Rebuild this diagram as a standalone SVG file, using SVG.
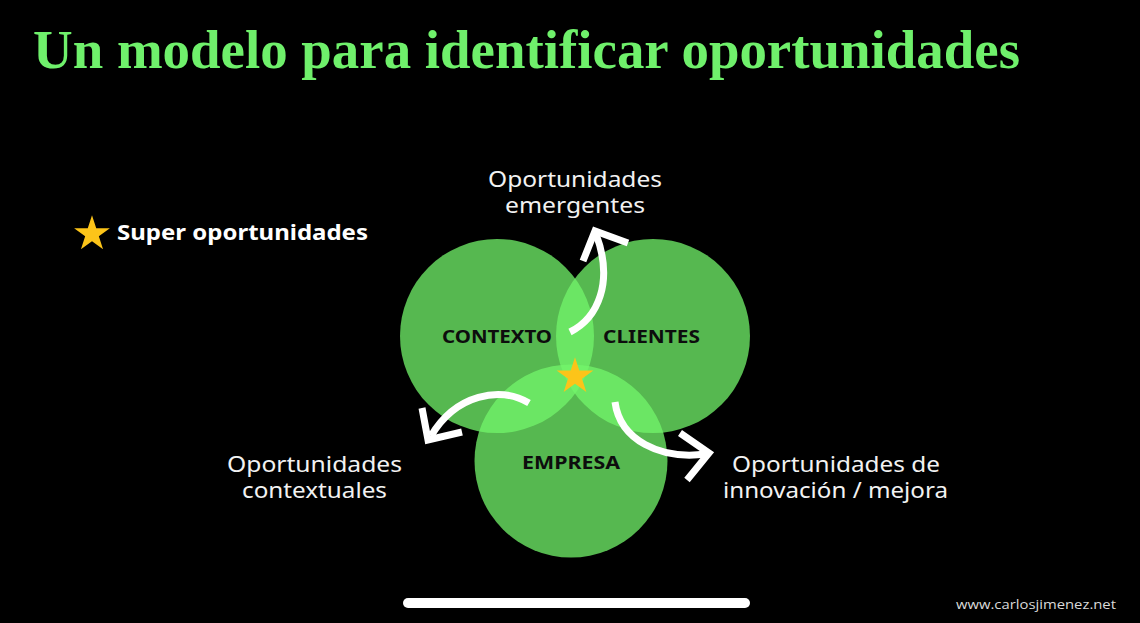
<svg xmlns="http://www.w3.org/2000/svg" width="1140" height="623" viewBox="0 0 1140 623">
  <defs>
    <style>
      .title { font-family: "Liberation Serif", "Times New Roman", serif; font-weight: bold; font-size: 55px; fill: #6ff06b; }
      .lbl { font-family: "Noto Sans", "Open Sans", sans-serif; font-weight: 400; font-size: 22px; fill: #f2f2f2; }
      .node-lbl { font-family: "Noto Sans", "Open Sans", sans-serif; font-weight: bold; font-size: 18px; fill: #0d0d0d; }
      .legend { font-family: "Noto Sans", "Open Sans", sans-serif; font-weight: bold; font-size: 21px; fill: #ffffff; }
      .web { font-family: "Open Sans", "Noto Sans", sans-serif; font-weight: 400; font-size: 13px; fill: #d9d9d9; }
      .circ { fill: #73f56b; fill-opacity: 0.75; }
      .arrow { fill: none; stroke: #ffffff; stroke-width: 7; stroke-linecap: butt; stroke-linejoin: miter; }
      .star { fill: #fcc419; }
    </style>
    <polygon id="starShape" points="0,-19.3 4.33,-5.96 18.35,-5.96 7.01,2.28 11.35,15.61 0,7.37 -11.35,15.61 -7.01,2.28 -18.35,-5.96 -4.33,-5.96"/>
  </defs>

  <rect x="0" y="0" width="1140" height="623" fill="#000000"/>

  <g id="title">
    <text class="title" x="33" y="68" textLength="987" lengthAdjust="spacingAndGlyphs">Un modelo para identificar oportunidades</text>
  </g>

  <g id="legend">
    <use href="#starShape" class="star" transform="translate(92,234) scale(0.975)"/>
    <text class="legend" x="117" y="240" textLength="251" lengthAdjust="spacingAndGlyphs">Super oportunidades</text>
  </g>

  <g id="node-contexto">
    <circle class="circ" cx="497" cy="336" r="97"/>
  </g>
  <g id="node-clientes">
    <circle class="circ" cx="653" cy="336" r="97"/>
  </g>
  <g id="node-empresa">
    <circle class="circ" cx="571" cy="461" r="96.5"/>
  </g>

  <g id="node-labels">
    <text class="node-lbl" x="442" y="343" textLength="110" lengthAdjust="spacingAndGlyphs">CONTEXTO</text>
    <text class="node-lbl" x="603" y="343" textLength="97" lengthAdjust="spacingAndGlyphs">CLIENTES</text>
    <text class="node-lbl" x="522" y="469" textLength="98" lengthAdjust="spacingAndGlyphs">EMPRESA</text>
  </g>

  <g id="node-star">
    <use href="#starShape" class="star" transform="translate(575,376.5)"/>
  </g>

  <g id="connectors">
    <path class="arrow" d="M570,332 C598,318 614,282 596,234"/>
    <polyline class="arrow" points="583,261 595,231 628,243"/>
    <path class="arrow" d="M529,403 C500,386 456,394 431,436"/>
    <polyline class="arrow" points="422,408 428,440 462,432"/>
    <path class="arrow" d="M615,402 C620,440 660,460 706,454"/>
    <polyline class="arrow" points="680,433 709,453 687,480"/>
  </g>

  <g id="outcome-labels">
    <text class="lbl" x="488" y="187" textLength="174" lengthAdjust="spacingAndGlyphs">Oportunidades</text>
    <text class="lbl" x="505" y="213" textLength="140" lengthAdjust="spacingAndGlyphs">emergentes</text>
    <text class="lbl" x="227" y="472" textLength="175" lengthAdjust="spacingAndGlyphs">Oportunidades</text>
    <text class="lbl" x="242" y="498" textLength="145" lengthAdjust="spacingAndGlyphs">contextuales</text>
    <text class="lbl" x="732" y="472" textLength="208" lengthAdjust="spacingAndGlyphs">Oportunidades de</text>
    <text class="lbl" x="723" y="498" textLength="225" lengthAdjust="spacingAndGlyphs">innovación / mejora</text>
  </g>

  <g id="footer">
    <rect x="403" y="598" width="347" height="10" rx="5" fill="#ffffff"/>
    <text class="web" x="956" y="609" textLength="160" lengthAdjust="spacingAndGlyphs">www.carlosjimenez.net</text>
  </g>
</svg>
